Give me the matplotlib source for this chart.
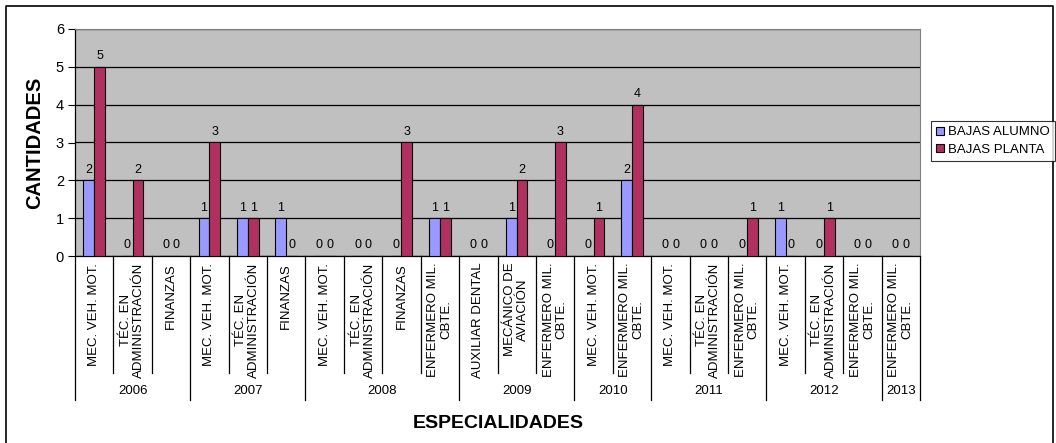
import matplotlib.pyplot as plt
from matplotlib.patches import Rectangle
from matplotlib.lines import Line2D
import numpy as np

plt.rcParams['font.family'] = ['Liberation Sans', 'DejaVu Sans']

# especialidades por año
years = ['2006', '2007', '2008', '2009', '2010', '2011', '2012', '2013']
especialidades = [
    ['MEC. VEH. MOT.', 'TÉC. EN\nADMINISTRACIÓN', 'FINANZAS'],
    ['MEC. VEH. MOT.', 'TÉC. EN\nADMINISTRACIÓN', 'FINANZAS'],
    ['MEC. VEH. MOT.', 'TÉC. EN\nADMINISTRACIÓN', 'FINANZAS', 'ENFERMERO MIL.\nCBTE.'],
    ['AUXILIAR DENTAL', 'MECÁNICO DE\nAVIACIÓN', 'ENFERMERO MIL.\nCBTE.'],
    ['MEC. VEH. MOT.', 'ENFERMERO MIL.\nCBTE.'],
    ['MEC. VEH. MOT.', 'TÉC. EN\nADMINISTRACIÓN', 'ENFERMERO MIL.\nCBTE.'],
    ['MEC. VEH. MOT.', 'TÉC. EN\nADMINISTRACIÓN', 'ENFERMERO MIL.\nCBTE.'],
    ['ENFERMERO MIL.\nCBTE.'],
]
bajas_alumno = [2, 0, 0, 1, 1, 1, 0, 0, 0, 1, 0, 1, 0, 0, 2, 0, 0, 0, 1, 0, 0, 0]
bajas_planta = [5, 2, 0, 3, 1, 0, 0, 0, 3, 1, 0, 2, 3, 1, 4, 0, 0, 1, 0, 1, 0, 0]

labels = [e for grupo in especialidades for e in grupo]
n = len(labels)
x = np.arange(n)
w = 0.28

fig = plt.figure(figsize=(10.56, 4.43), dpi=100)
W, H = 1056, 443
ax = fig.add_axes([75 / W, 1 - 256 / H, 845 / W, 227 / H])
ax.set_facecolor('#C0C0C0')

b1 = ax.bar(x - w / 2, bajas_alumno, w, color='#9999FF', edgecolor='black', linewidth=0.8, zorder=3)
b2 = ax.bar(x + w / 2, bajas_planta, w, color='#B03060', edgecolor='black', linewidth=0.8, zorder=3)
for rects, vals in ((b1, bajas_alumno), (b2, bajas_planta)):
    for r, v in zip(rects, vals):
        ax.text(r.get_x() + r.get_width() / 2, v + 0.12, str(v), ha='center', va='bottom', fontsize=9)

ax.set_xlim(-0.5, n - 0.5)
ax.set_ylim(0, 6)
ax.set_yticks(range(7))
ax.tick_params(axis='y', labelsize=10.5, length=5, width=0.8, pad=3)
ax.set_xticks([])
ax.yaxis.grid(True, color='black', linewidth=0.9, zorder=1)
ax.set_axisbelow(True)
for s in ['top', 'right']:
    ax.spines[s].set_color('#808080')
ax.spines['left'].set_linewidth(0.9)
ax.spines['bottom'].set_linewidth(0.9)

# rótulos de categorías y años bajo el eje
tr = ax.get_xaxis_transform()
for i, lab in enumerate(labels):
    ax.text(i, -0.03, lab, transform=tr, rotation=90, ha='center', va='top',
            multialignment='center', fontsize=9.5, linespacing=1.12)
cut_cat = -117 / 227
cut_year = -144 / 227
start = 0
bordes = [-0.5]
for yr, grupo in zip(years, especialidades):
    end = start + len(grupo)
    ax.text((start + end - 1) / 2, -135.5 / 227, yr, transform=tr, ha='center', va='center', fontsize=9.5)
    for k in range(start + 1, end):
        ax.add_line(Line2D([k - 0.5, k - 0.5], [0, cut_cat], transform=tr, color='black',
                           linewidth=0.9, clip_on=False))
    bordes.append(end - 0.5)
    start = end
for b in bordes:
    ax.add_line(Line2D([b, b], [0, cut_year], transform=tr, color='black', linewidth=0.9, clip_on=False))

fig.text(35 / W, 1 - 143 / H, 'CANTIDADES', rotation=90, ha='center', va='center',
         fontsize=14.5, fontweight='bold')
fig.text(498 / W, 1 - 423 / H, 'ESPECIALIDADES', ha='center', va='center',
         fontsize=14, fontweight='bold')

handles = [Rectangle((0, 0), 1, 1, facecolor='#9999FF', edgecolor='black', linewidth=0.8),
           Rectangle((0, 0), 1, 1, facecolor='#B03060', edgecolor='black', linewidth=0.8)]
leg = fig.legend(handles, ['BAJAS ALUMNO', 'BAJAS PLANTA'], loc='center left',
                 bbox_to_anchor=(931 / W, 1 - 141 / H), fontsize=9.5, frameon=True, fancybox=False,
                 borderpad=0.4, handlelength=0.6, handleheight=0.6, handletextpad=0.3,
                 labelspacing=0.4, borderaxespad=0)
leg.get_frame().set_edgecolor('black')
leg.get_frame().set_linewidth(0.8)

# marco exterior
fig.add_artist(Line2D([5.5 / W, 5.5 / W, 1052.5 / W, 1052.5 / W], [0, 1 - 5.5 / H, 1 - 5.5 / H, 0],
                      transform=fig.transFigure, color='black', linewidth=1.2))

fig.savefig('out.png', dpi=100)
